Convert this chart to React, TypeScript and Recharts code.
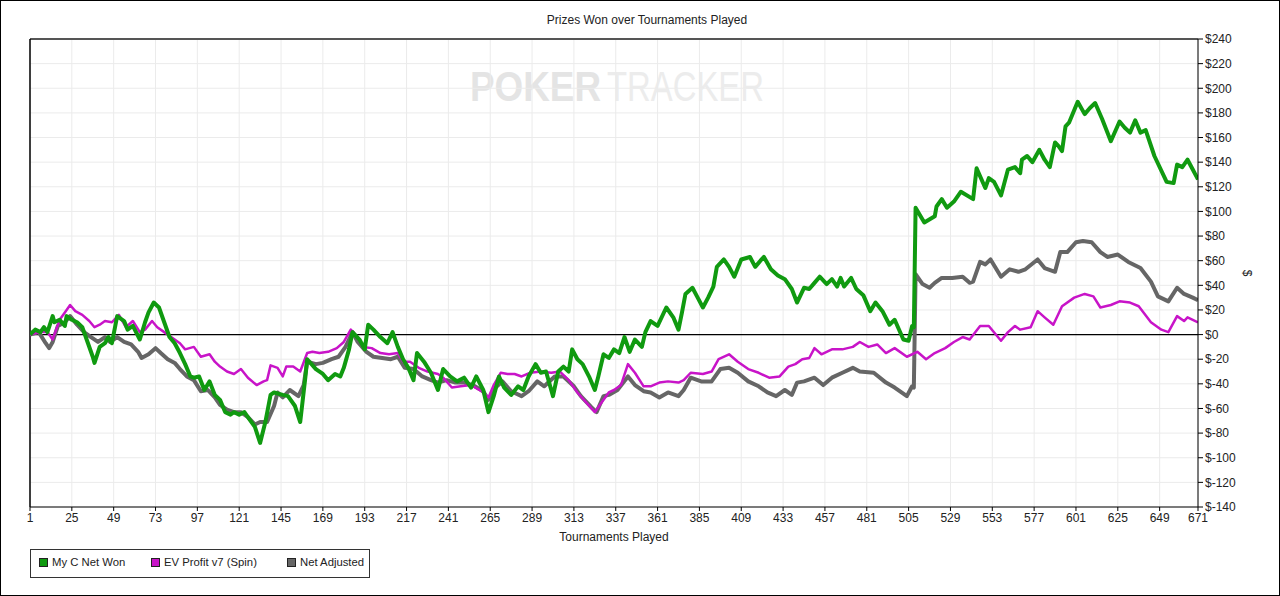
import React from 'react'
import { CartesianGrid, Line, LineChart, ReferenceLine, XAxis, YAxis } from 'recharts'

// tournament numbers and running totals ($)
const netWonT = [1,4,7,9,11,14,15,18,21,22,25,28,31,34,37,38,41,44,46,48,51,55,57,60,64,67,69,72,75,78,81,84,87,90,93,95,98,101,104,107,110,113,116,118,121,124,127,130,133,136,139,141,146,149,153,156,159,160,165,169,172,176,179,181,184,186,190,193,195,198,202,206,209,212,215,218,221,223,227,231,235,238,242,246,250,254,257,261,264,267,270,273,277,281,284,287,291,294,297,301,304,307,310,312,315,318,322,325,327,330,333,336,339,342,345,348,352,354,357,361,366,370,373,375,377,381,384,387,390,393,395,399,402,405,409,414,417,420,422,426,430,434,438,441,445,448,451,454,458,461,464,466,468,472,475,479,483,486,490,494,497,502,505,507,508,509,514,520,521,524,527,531,535,542,544,549,551,554,558,562,566,569,570,573,576,580,583,586,589,591,593,595,597,602,606,609,612,616,621,626,629,632,635,638,641,646,653,657,659,662,665,668,671]
const netWonV = [0,4,2,6,2,15,10,12,7,15,12,10,6,-6,-18,-23,-10,-7,-2,-7,15,11,4,7,-4,10,18,26,22,10,-2,-7,-15,-24,-34,-35,-34,-45,-38,-49,-53,-63,-65,-63,-65,-63,-69,-75,-88,-71,-49,-47,-49,-50,-58,-71,-34,-20,-28,-32,-37,-32,-34,-27,-12,2,-4,-12,8,4,-2,-7,2,-10,-20,-27,-37,-15,-22,-31,-45,-28,-34,-38,-35,-43,-34,-45,-63,-50,-34,-43,-49,-42,-45,-34,-24,-31,-30,-50,-30,-26,-30,-12,-20,-24,-35,-45,-34,-16,-19,-12,-15,-2,-14,-4,-10,2,11,7,22,14,4,18,33,38,30,22,30,39,55,61,55,47,61,63,55,60,63,53,48,45,37,26,38,37,42,47,41,45,39,46,39,46,37,32,19,26,19,8,12,-4,-5,7,6,103,91,96,104,110,103,108,116,110,135,119,127,124,113,134,136,131,142,145,140,150,142,136,156,153,149,169,172,189,179,184,188,175,157,173,168,164,174,164,166,145,124,123,138,136,142,134,126]

const evT = [1,7,11,14,18,21,24,27,31,35,38,41,44,48,52,56,60,64,67,71,74,78,82,87,90,95,99,104,107,110,114,118,122,126,131,135,137,139,143,146,148,152,156,160,163,167,172,177,181,185,189,192,197,202,207,212,215,219,224,229,235,238,243,248,254,260,264,267,271,275,279,283,288,294,300,305,310,315,320,325,329,333,336,340,344,348,353,357,362,367,373,376,380,387,392,396,402,407,413,419,425,431,436,440,444,448,451,455,461,467,473,477,482,487,492,497,504,510,515,520,526,531,536,540,546,551,558,562,566,569,575,579,583,588,593,600,606,611,615,621,626,632,637,644,650,654,659,663,665,671]
const evV = [0,2,2,-4,12,18,24,19,16,11,6,8,11,10,16,6,11,2,4,11,6,2,-2,-7,-12,-10,-18,-16,-22,-26,-30,-32,-28,-35,-41,-38,-37,-25,-27,-34,-26,-26,-30,-15,-14,-15,-14,-11,-6,4,-2,-10,-11,-15,-16,-15,-22,-22,-27,-30,-32,-35,-43,-42,-41,-46,-51,-41,-31,-32,-32,-34,-31,-30,-31,-30,-37,-47,-55,-63,-55,-47,-45,-41,-24,-31,-42,-42,-39,-38,-39,-37,-31,-32,-30,-20,-16,-22,-28,-31,-35,-34,-26,-24,-20,-19,-11,-16,-12,-12,-10,-6,-10,-8,-15,-11,-18,-14,-20,-15,-11,-6,-2,-4,7,7,-5,2,7,4,6,19,14,8,23,30,33,31,22,24,27,26,23,10,4,2,15,11,14,10]

const adjT = [1,6,10,12,14,17,21,24,28,32,36,40,44,47,51,55,59,63,65,69,73,76,80,84,87,91,95,99,103,107,110,114,118,122,126,130,133,137,141,143,146,150,155,158,160,165,169,174,178,182,186,189,194,198,203,208,212,216,221,226,231,235,240,245,250,255,261,264,268,272,277,283,287,292,296,302,307,313,317,323,326,330,333,338,344,348,353,357,362,367,373,376,380,386,392,397,402,407,413,419,424,429,434,438,441,445,451,456,461,467,473,477,485,492,497,504,507,508,509,513,517,520,524,530,536,540,542,546,549,552,558,563,568,572,579,583,589,592,596,601,605,610,615,619,625,631,638,644,648,654,659,663,668,671]
const adjV = [0,2,-7,-11,-6,7,10,15,8,2,-2,-6,-2,-6,-2,-6,-8,-14,-19,-16,-11,-15,-20,-23,-28,-34,-37,-46,-45,-51,-57,-61,-63,-63,-67,-73,-71,-71,-58,-47,-51,-45,-50,-41,-22,-24,-23,-20,-18,-10,2,-6,-14,-18,-19,-20,-18,-27,-28,-34,-37,-39,-37,-39,-39,-41,-46,-53,-43,-38,-46,-50,-46,-38,-42,-34,-34,-42,-50,-59,-63,-50,-49,-45,-34,-41,-46,-47,-51,-47,-50,-45,-35,-38,-38,-28,-27,-31,-38,-42,-47,-50,-45,-49,-39,-38,-35,-41,-35,-31,-27,-30,-31,-39,-43,-50,-42,-43,49,41,38,42,46,46,47,42,43,59,57,61,47,53,51,53,61,54,51,67,67,75,76,75,67,63,65,59,54,43,31,27,38,33,30,28]

const xTicks = [1,25,49,73,97,121,145,169,193,217,241,265,289,313,337,361,385,409,433,457,481,505,529,553,577,601,625,649,671]
const yTicks = [-140,-120,-100,-80,-60,-40,-20,0,20,40,60,80,100,120,140,160,180,200,220,240]

const GREEN = '#109a10'
const MAGENTA = '#c814c8'
const GREY = '#666666'
const FONT = '"Liberation Sans", Arial, sans-serif'

const zip = (t: number[], v: number[]) => t.map((x, i) => ({ t: x, v: v[i] }))

const series = [
  { name: 'Net Adjusted', color: GREY, width: 4, data: zip(adjT, adjV) },
  { name: 'EV Profit v7 (Spin)', color: MAGENTA, width: 2.5, data: zip(evT, evV) },
  { name: 'My C Net Won', color: GREEN, width: 4, data: zip(netWonT, netWonV) },
]
// legend entries and where each swatch sits inside the box
const legendOrder = [series[2], series[1], series[0]]
const legendLeft = [8, 120, 256]

const App = () => {
  return (
    <div style={{ position: 'absolute', left: 0, top: 0, width: 1280, height: 596, background: '#fff', fontFamily: FONT }}>
      <svg width={1280} height={596} style={{ position: 'absolute', left: 0, top: 0 }}>
        <rect x={0.5} y={0.5} width={1279} height={595} fill="none" stroke="#000" />
        <text x={647} y={24} textAnchor="middle" fontSize={12} fill="#222">Prizes Won over Tournaments Played</text>
        <text x={470} y={101} fontSize={42} fontWeight="bold" fill="#e4e4e4" textLength={131} lengthAdjust="spacingAndGlyphs">POKER</text>
        <text x={607} y={101} fontSize={42} fill="#ececec" textLength={157} lengthAdjust="spacingAndGlyphs">TRACKER</text>
        <text x={614} y={541} textAnchor="middle" fontSize={12} fill="#222">Tournaments Played</text>
        <text x={1243} y={273} fontSize={12} fill="#222" transform="rotate(90 1243 273)" textAnchor="middle">$</text>
      </svg>
      <div style={{ position: 'absolute', left: 0, top: 0 }}>
        <LineChart width={1280} height={596} margin={{ top: 39, right: 0, left: 30, bottom: 49 }}>
          <CartesianGrid stroke="#ebebeb" />
          <XAxis
            type="number"
            dataKey="t"
            domain={[1, 671]}
            ticks={xTicks}
            allowDataOverflow
            height={40}
            axisLine={{ stroke: '#000' }}
            tickLine={{ stroke: '#000' }}
            tickSize={4}
            tick={{ fontSize: 12, fill: '#222', fontFamily: FONT }}
            interval={0}
          />
          <YAxis
            orientation="right"
            domain={[-140, 240]}
            ticks={yTicks}
            width={82}
            allowDataOverflow
            axisLine={{ stroke: '#000' }}
            tickLine={{ stroke: '#000' }}
            tickSize={5}
            tick={{ fontSize: 12, fill: '#222', fontFamily: FONT }}
            tickFormatter={(v: number) => `$${v}`}
            interval={0}
          />
          <ReferenceLine y={240} stroke="#555" strokeWidth={2} />
          <ReferenceLine x={1} stroke="#000" strokeWidth={1.5} />
          <ReferenceLine y={0} stroke="#000" strokeWidth={1.2} />
          {series.map(s => (
            <Line
              key={s.name}
              data={s.data}
              dataKey="v"
              name={s.name}
              type="linear"
              stroke={s.color}
              strokeWidth={s.width}
              dot={false}
              isAnimationActive={false}
              strokeLinejoin="round"
            />
          ))}
        </LineChart>
      </div>
      <div
        style={{
          position: 'absolute', left: 30, top: 549, width: 340, height: 29, boxSizing: 'border-box',
          border: '1.5px solid #333', fontSize: 11.3, color: '#222',
        }}
      >
        {legendOrder.map((s, i) => (
          <div
            key={s.name}
            style={{ position: 'absolute', left: legendLeft[i], top: 6, display: 'flex', alignItems: 'center', whiteSpace: 'nowrap' }}
          >
            <span style={{ width: 7, height: 7, background: s.color, border: '1px solid #222', marginRight: 4, display: 'inline-block' }} />
            {s.name}
          </div>
        ))}
      </div>
    </div>
  )
}

export default App
